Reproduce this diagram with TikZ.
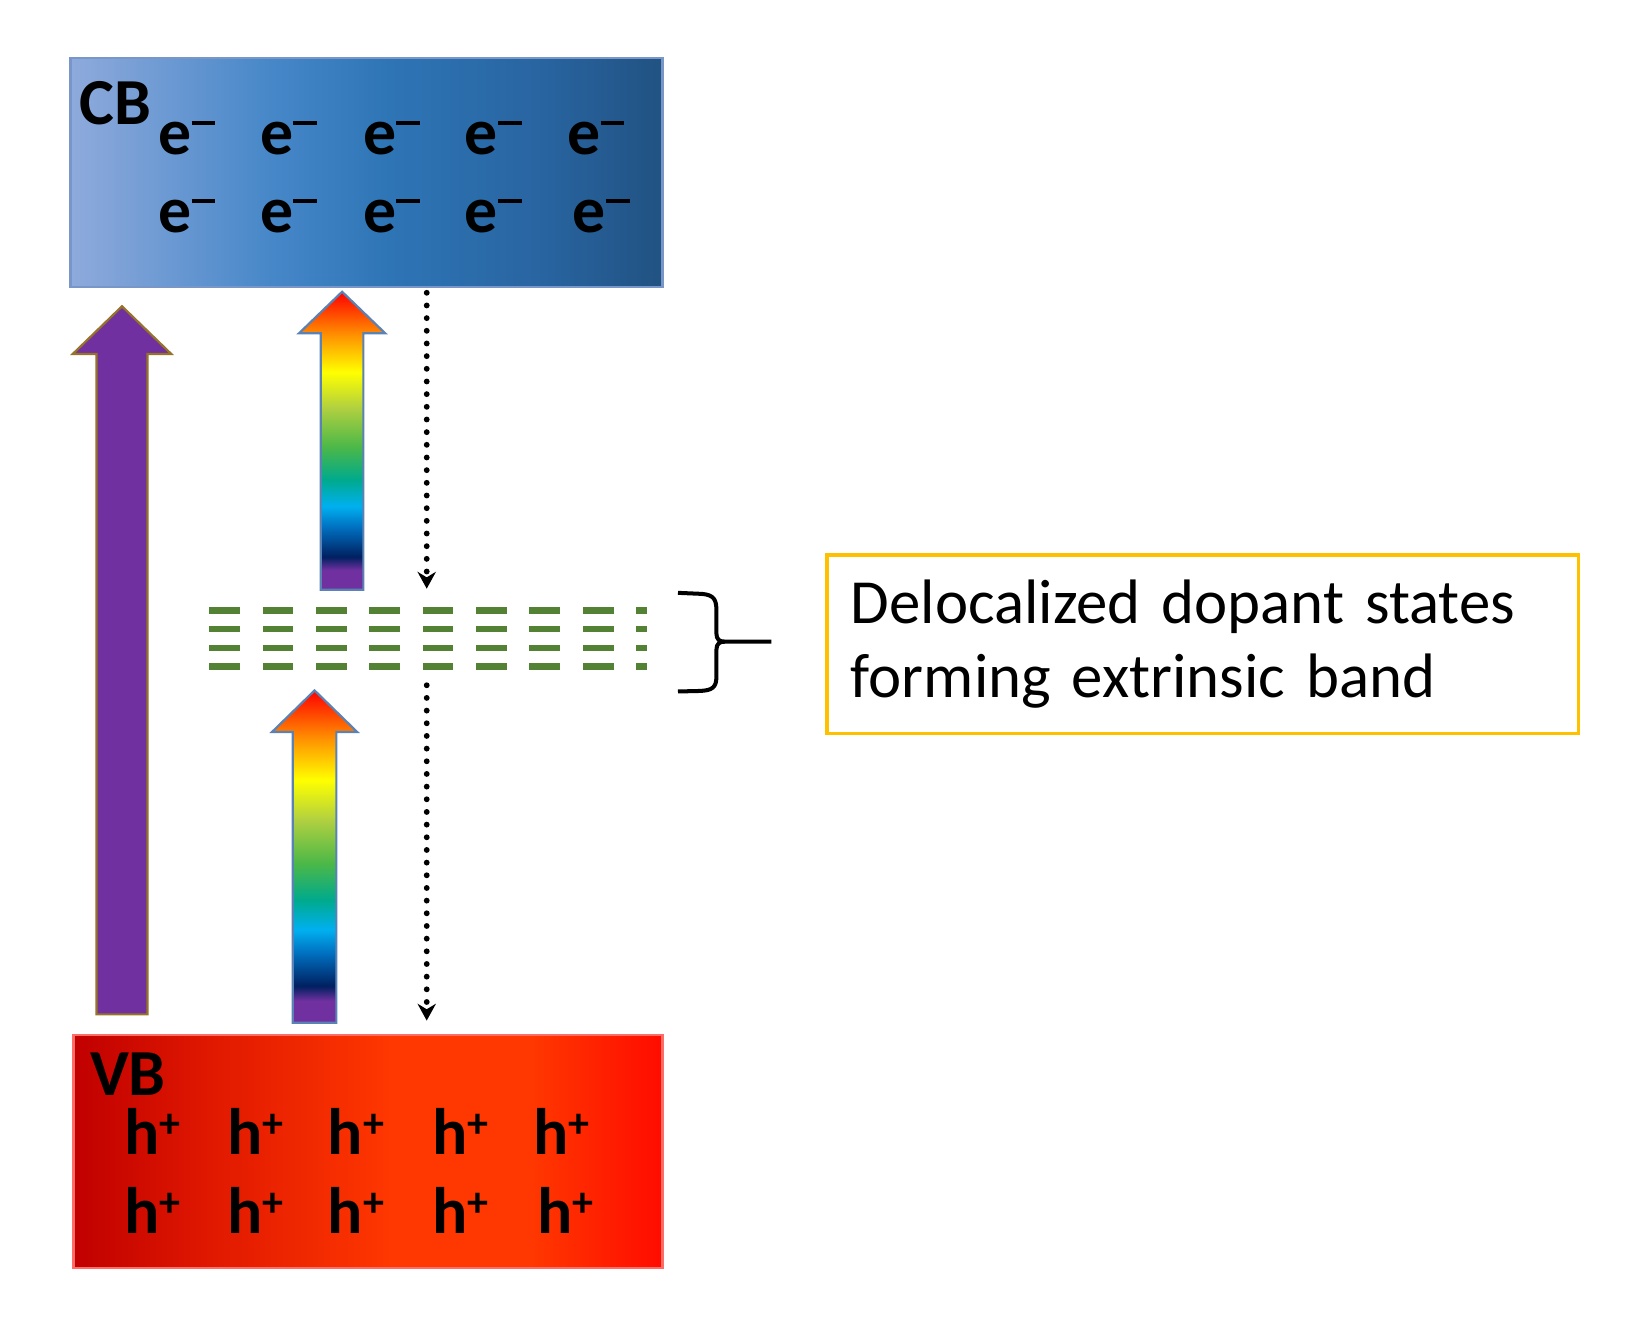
\documentclass[tikz,border=0pt]{standalone}
\usepackage{fontspec}
\setmainfont{Carlito}
\usetikzlibrary{arrows.meta,calc}

\definecolor{cblight}{RGB}{143,170,220}
\definecolor{cbsoft}{RGB}{70,135,200}
\definecolor{cbmid}{RGB}{46,117,182}
\definecolor{cbdeep}{RGB}{40,100,160}
\definecolor{cbdark}{RGB}{33,82,130}
\definecolor{cbedge}{RGB}{120,150,200}
\definecolor{vbdark}{RGB}{192,0,0}
\definecolor{vbwarm}{RGB}{225,25,0}
\definecolor{vbmid}{RGB}{255,55,0}
\definecolor{vbbright}{RGB}{255,12,0}
\definecolor{uvpurple}{RGB}{112,48,160}
\definecolor{uvedge}{RGB}{150,115,40}
\definecolor{visedge}{RGB}{90,130,180}
\definecolor{dopant}{RGB}{84,130,53}
\definecolor{notegold}{RGB}{255,192,0}
\definecolor{rbpurple}{RGB}{112,48,160}
\definecolor{rbnavy}{RGB}{0,32,96}
\definecolor{rbblue}{RGB}{0,112,192}
\definecolor{rbcyan}{RGB}{0,176,240}
\definecolor{rbteal}{RGB}{0,170,140}
\definecolor{rbgreen}{RGB}{76,184,72}
\definecolor{rblime}{RGB}{176,208,64}
\definecolor{rbyellow}{RGB}{255,255,0}
\definecolor{rborange}{RGB}{255,150,0}
\definecolor{rbred}{RGB}{255,0,0}

\pgfdeclareverticalshading{rainbow}{100bp}{color(0bp)=(rbpurple); color(25bp)=(rbpurple);
  color(28.3bp)=(rbpurple); color(30.5bp)=(rbnavy); color(35.5bp)=(rbblue); color(39bp)=(rbcyan);
  color(43.5bp)=(rbteal); color(49bp)=(rbgreen); color(55.5bp)=(rblime); color(61.5bp)=(rbyellow);
  color(67.5bp)=(rborange); color(75bp)=(rbred); color(100bp)=(rbred)}
\pgfdeclarehorizontalshading{cbshade}{100bp}{color(0bp)=(cblight); color(25bp)=(cblight);
  color(42bp)=(cbsoft); color(52bp)=(cbmid); color(65bp)=(cbdeep); color(75bp)=(cbdark);
  color(100bp)=(cbdark)}
\pgfdeclarehorizontalshading{vbshade}{100bp}{color(0bp)=(vbdark); color(25bp)=(vbdark);
  color(37bp)=(vbwarm); color(52bp)=(vbmid); color(64bp)=(vbmid); color(75bp)=(vbbright);
  color(100bp)=(vbbright)}

\newcommand{\elecsym}{e\raisebox{8.2pt}{\rule{6.5pt}{1.0pt}}}
\newcommand{\holesym}{h\raisebox{4.6pt}{\fontsize{11.5}{12}\selectfont +}}
% upward block arrow: style, from, to, shaft half width, head half width, head length
\newcommand{\blockarrow}[6]{%
  \path[#1] ($(#2)+(-#4,0)$) -- ($(#3)+(-#4,#6)$) -- ($(#3)+(-#5,#6)$) -- (#3)
    -- ($(#3)+(#5,#6)$) -- ($(#3)+(#4,#6)$) -- ($(#2)+(#4,0)$) -- cycle;}

\begin{document}
\begin{tikzpicture}[
    x=0.01cm, y=-0.01cm,
    bandbox/.style={rectangle, draw, line width=0.6pt, inner sep=0pt},
    carrier/.style={anchor=base west, inner sep=0pt, font=\fontsize{18}{20}\selectfont\bfseries},
    dopantdash/.style={draw=dopant, line width=1.8pt},
    relaxpath/.style={line width=1.6pt, line cap=round, dash pattern=on 0pt off 3.47pt,
        -{Stealth[length=4.6pt,width=5pt]}},
    bracestroke/.style={line width=1.1pt},
    notebox/.style={draw=notegold, line width=0.9pt, text width=6.77cm, inner xsep=0.23cm,
        inner ysep=0pt, minimum height=1.72cm, align=left, font=\fontsize{17.2}{20.2}\selectfont},
]
\useasboundingbox (0,0) rectangle (1568,1282);

% Bands
\node[bandbox, draw=cbedge, shading=cbshade, minimum width=5.70cm, minimum height=2.20cm] (cb) at (353,166) {};
\node[bandbox, draw=vbbright!60!white, shading=vbshade, minimum width=5.67cm, minimum height=2.24cm] (vb) at (354.5,1109) {};

% Band labels and carriers
\node[carrier] (cblabel) at (76,120) {CB};
\node[carrier] (vblabel) at (86,1055) {VB};
\foreach \x [count=\i] in {152,250,349,447,546}
    \node[carrier] (e\i) at (\x,149) {\elecsym};
\foreach \x [count=\i from 6] in {152,250,349,447,551}
    \node[carrier] (e\i) at (\x,224) {\elecsym};
\foreach \x [count=\i] in {119,218,315,416,513}
    \node[carrier] (h\i) at (\x,1112) {\holesym};
\foreach \x [count=\i from 6] in {119,218,315,416,517}
    \node[carrier] (h\i) at (\x,1188) {\holesym};

% Dopant states
\foreach \y in {588,606,624,642} {
    \foreach \i in {0,...,7}
        \draw[dopantdash] (201.5+51.4*\i,\y) -- ++(29.6,0);
    \draw[dopantdash] (612.5,\y) -- ++(11,0);
}

% Excitation arrows
\coordinate (uvbot) at (117.5,977);
\coordinate (uvtop) at (117.5,295);
\coordinate (vis1bot) at (329.5,568);
\coordinate (vis1top) at (329.5,281);
\coordinate (vis2bot) at (303,985);
\coordinate (vis2top) at (303,665);
\blockarrow{fill=uvpurple, draw=uvedge, line width=0.6pt}{uvbot}{uvtop}{24.5}{47.5}{46}
\blockarrow{shading=rainbow, draw=visedge, line width=0.6pt}{vis1bot}{vis1top}{20.5}{41.5}{40}
\blockarrow{shading=rainbow, draw=visedge, line width=0.6pt}{vis2bot}{vis2top}{21}{41}{40}

% Relaxation
\coordinate (relax1s) at (411,282);
\coordinate (relax1e) at (411,567);
\coordinate (relax2s) at (411,660);
\coordinate (relax2e) at (411,983);
\draw[relaxpath] (relax1s) -- (relax1e);
\draw[relaxpath] (relax2s) -- (relax2e);

% Brace and annotation
\coordinate (bracetip) at (698,618);
\coordinate (bracestem) at (743,618);
\draw[bracestroke] (653,571) -- (676,572) .. controls (688,573) and (690,578) .. (690,588)
    -- (690,610) .. controls (690,616) and (693,618) .. (bracetip) -- (bracestem);
\draw[bracestroke] (bracetip) .. controls (693,618) and (690,620) .. (690,626)
    -- (690,652) .. controls (690,662) and (686,665) .. (674,665.5) -- (653,666);
\node[notebox, anchor=north west] (note) at (795,533) {Delocalized dopant states\\forming extrinsic band};

\end{tikzpicture}
\end{document}
